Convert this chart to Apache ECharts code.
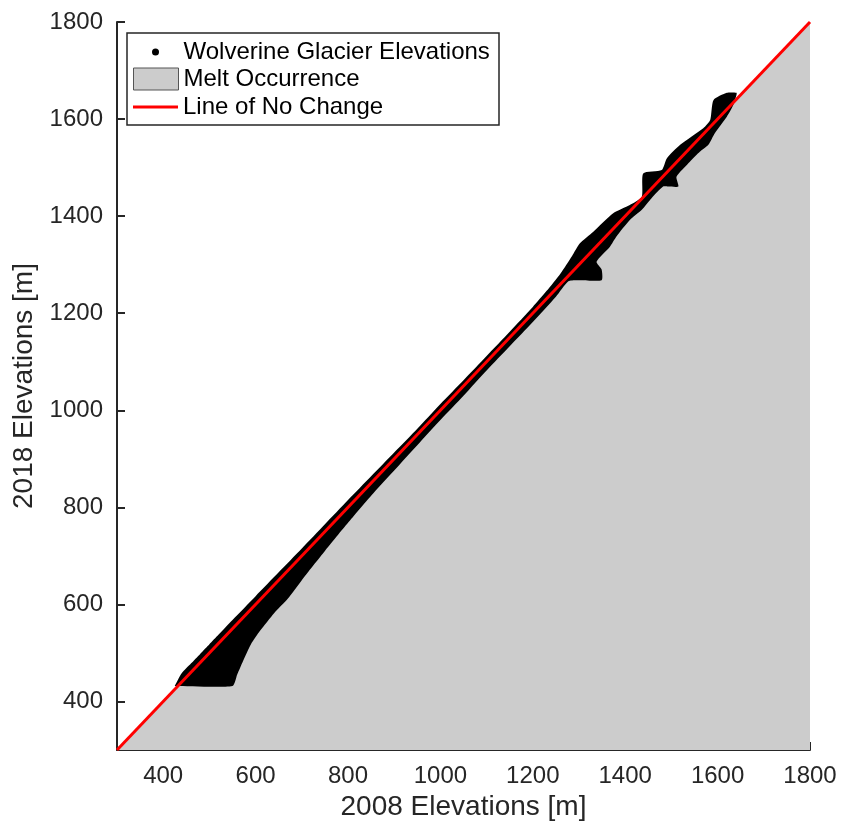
<!DOCTYPE html>
<html>
<head>
<meta charset="utf-8">
<script src="https://cdn.jsdelivr.net/npm/echarts@6/dist/echarts.min.js"></script>
<style>
  html, body { margin: 0; padding: 0; background: #fff; }
  #chart { width: 843px; height: 828px; }
</style>
</head>
<body>
<div id="chart"></div>
<script>
  // axis ticks (both axes run 300..1800)
  const tickValues = [400, 600, 800, 1000, 1200, 1400, 1600, 1800];

  // line of no change (2018 = 2008)
  const noChangeX = [300, 1800];
  const noChangeY = [300, 1800];

  // melt occurrence: everything under the line of no change
  const meltX = [300, 1800];
  const meltY = [300, 1800];

  // outline of the glacier elevation point cloud, upper edge (left to right)
  const bandUpperX = [425, 440, 460, 480, 500, 520, 550, 600, 650, 700, 750, 800, 850, 900, 950, 1000,
    1050, 1100, 1150, 1200, 1230, 1260, 1285, 1302, 1331, 1374, 1410, 1436, 1439, 1479, 1490, 1519,
    1569, 1584, 1591, 1620, 1641];
  const bandUpperY = [432, 458, 478, 498, 518, 538, 568, 617, 666, 715, 765, 815, 864, 913, 962, 1013,
    1062, 1112, 1162, 1213, 1246, 1282, 1318, 1344, 1368, 1406, 1423, 1440, 1488, 1495, 1519, 1547,
    1581, 1598, 1639, 1654, 1654];
  // lower edge (right to left)
  const bandLowerX = [1641, 1634, 1620, 1594, 1580, 1562, 1540, 1511, 1515, 1493, 1482, 1457, 1436, 1410,
    1381, 1367, 1338, 1349, 1349, 1302, 1277, 1250, 1200, 1150, 1100, 1050, 1000, 950, 900, 850, 800,
    750, 700, 670, 640, 610, 590, 575, 560, 550, 425];
  const bandLowerY = [1650, 1629, 1605, 1571, 1547, 1533, 1512, 1481, 1461, 1461, 1461, 1437, 1413, 1392,
    1358, 1337, 1306, 1290, 1268, 1268, 1266, 1234, 1182, 1132, 1082, 1030, 980, 928, 876, 824, 768,
    710, 650, 612, 582, 546, 518, 488, 455, 432, 432];

  const bandOutline = bandUpperX.map((x, i) => [x, bandUpperY[i]])
    .concat(bandLowerX.map((x, i) => [x, bandLowerY[i]]));

  const fontFamily = 'Liberation Sans, Arial, Helvetica, sans-serif';
  const axisColor = '#262626';
  const legendText = { fontSize: 24, lineHeight: 24, color: '#000', fontFamily: fontFamily };

  const chart = echarts.init(document.getElementById('chart'));

  function axisOpt(name, gap) {
    return {
      type: 'value',
      min: 300,
      max: 1800,
      name: name,
      nameLocation: 'middle',
      nameGap: gap,
      nameTextStyle: { fontSize: 28, color: axisColor, fontFamily: fontFamily },
      axisLine: { show: true, lineStyle: { color: axisColor, width: 2 } },
      axisTick: { show: true, inside: true, length: 8, customValues: tickValues,
        lineStyle: { color: axisColor, width: 2 } },
      axisLabel: { customValues: tickValues, fontSize: 24, color: axisColor, margin: 14,
        fontFamily: fontFamily, formatter: v => String(v) },
      splitLine: { show: false }
    };
  }

  chart.setOption({
    animation: false,
    grid: { left: 117, right: 33, top: 22, bottom: 78 },
    xAxis: axisOpt('2008 Elevations [m]', 41),
    yAxis: axisOpt('2018 Elevations [m]', 71),
    graphic: [{
      type: 'rect',
      shape: { x: 127, y: 33, width: 372, height: 92 },
      style: { fill: '#fff', stroke: '#262626', lineWidth: 1.5 },
      z: 10
    }],
    legend: [
      {
        data: [{ name: 'Wolverine Glacier Elevations', icon: 'circle', itemStyle: { color: '#000' } }],
        left: 152, top: 40, padding: 0, itemWidth: 46, itemHeight: 7, selectedMode: false, z: 20,
        textStyle: legendText
      },
      {
        data: [{ name: 'Melt Occurrence', icon: 'rect',
          itemStyle: { color: '#cccccc', borderColor: '#555', borderWidth: 1 } }],
        left: 133, top: 67, padding: 0, itemWidth: 45, itemHeight: 22, selectedMode: false, z: 20,
        textStyle: legendText
      },
      {
        data: [{ name: 'Line of No Change', icon: 'rect', itemStyle: { color: '#ff0000' } }],
        left: 133, top: 95, padding: 0, itemWidth: 45, itemHeight: 3, selectedMode: false, z: 20,
        textStyle: legendText
      }
    ],
    series: [
      {
        name: 'Melt Occurrence',
        type: 'line',
        data: meltX.map((x, i) => [x, meltY[i]]),
        symbol: 'none',
        lineStyle: { width: 0 },
        itemStyle: { color: '#cccccc' },
        areaStyle: { color: '#cccccc', opacity: 1, origin: 'start' },
        z: 1,
        silent: true
      },
      {
        name: 'Wolverine Glacier Elevations',
        type: 'custom',
        data: [bandOutline[0]],
        itemStyle: { color: '#000' },
        renderItem: function (params, api) {
          const pts = bandOutline.map(p => api.coord(p));
          return { type: 'polygon', shape: { points: pts, smooth: 0.2 }, style: { fill: '#000' } };
        },
        z: 2,
        silent: true
      },
      {
        name: 'Line of No Change',
        type: 'line',
        data: noChangeX.map((x, i) => [x, noChangeY[i]]),
        symbol: 'none',
        lineStyle: { color: '#ff0000', width: 3 },
        itemStyle: { color: '#ff0000' },
        z: 3,
        silent: true
      }
    ]
  });
</script>
</body>
</html>
